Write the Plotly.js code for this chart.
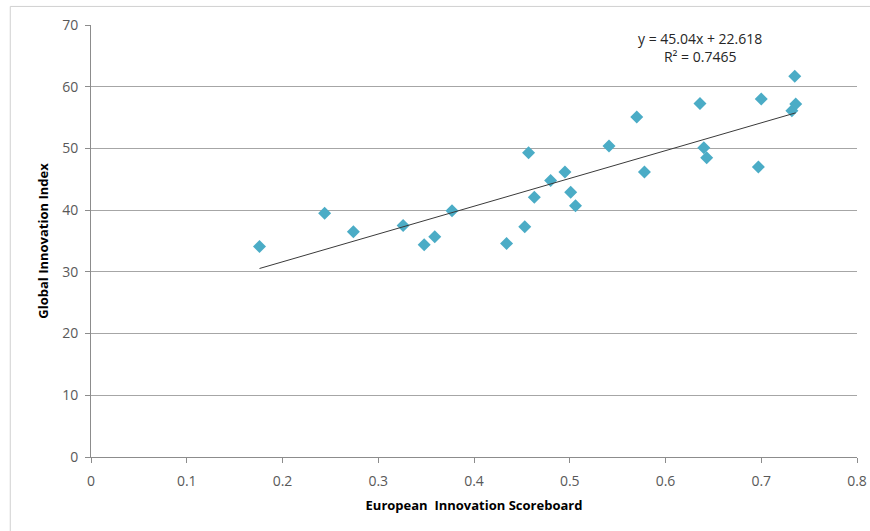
<!DOCTYPE html>
<html>
<head>
<meta charset="utf-8">
<script src="https://cdn.plot.ly/plotly-3.0.1.min.js"></script>
<style>html,body{margin:0;padding:0;background:#fff;}#chart{width:870px;height:531px;}</style>
</head>
<body>
<div id="chart"></div>
<script>
// European Innovation Scoreboard (x) vs Global Innovation Index (y)
const eisScores = [0.176, 0.244, 0.274, 0.326, 0.348, 0.359, 0.377, 0.434, 0.453, 0.457,
  0.463, 0.480, 0.495, 0.501, 0.506, 0.541, 0.570, 0.578, 0.636, 0.640,
  0.643, 0.697, 0.700, 0.732, 0.736, 0.735];
const giiScores = [34.1, 39.5, 36.5, 37.5, 34.4, 35.7, 39.9, 34.6, 37.3, 49.3,
  42.1, 44.8, 46.2, 42.9, 40.7, 50.4, 55.1, 46.2, 57.3, 50.1,
  48.5, 47.0, 58.0, 56.1, 57.2, 61.7];
// Linear trendline as printed on the chart
const trendSlope = 45.04;
const trendIntercept = 22.618;
const trendR2 = 0.7465;
const xTicks = [0, 0.1, 0.2, 0.3, 0.4, 0.5, 0.6, 0.7, 0.8];
const yTicks = [0, 10, 20, 30, 40, 50, 60, 70];

const xMin = Math.min(...eisScores), xMax = Math.max(...eisScores);
const trendX = [xMin, xMax];
const trendY = trendX.map(v => trendSlope * v + trendIntercept);

const font = "'Open Sans', 'Liberation Sans', sans-serif";

const data = [
  {
    x: eisScores, y: giiScores, type: 'scatter', mode: 'markers',
    marker: {symbol: 'diamond', size: 10, color: '#4bacc6'},
    hoverinfo: 'x+y', showlegend: false
  },
  {
    x: trendX, y: trendY, type: 'scatter', mode: 'lines',
    line: {color: '#3a3a3a', width: 1},
    hoverinfo: 'skip', showlegend: false
  }
];

const layout = {
  width: 870, height: 531,
  margin: {l: 91, r: 13, t: 25, b: 74},
  paper_bgcolor: '#ffffff', plot_bgcolor: '#ffffff',
  font: {family: font, size: 14, color: '#595959'},
  xaxis: {
    range: [0, 0.8], tickvals: xTicks, ticktext: xTicks.map(String),
    showgrid: false, zeroline: false,
    showline: true, linecolor: '#8c8c8c', linewidth: 1,
    ticks: 'outside', ticklen: 5, tickcolor: '#8c8c8c',
    ticklabelstandoff: 6,
    tickfont: {family: font, size: 14, color: '#595959'},
    title: {text: 'European  Innovation Scoreboard', font: {family: font, size: 13, color: '#000', weight: 'bold'}, standoff: 12},
    fixedrange: true
  },
  yaxis: {
    range: [0, 70], tickvals: yTicks, ticktext: yTicks.map(String),
    showgrid: true, gridcolor: '#a6a6a6', gridwidth: 1, zeroline: false,
    showline: true, linecolor: '#8c8c8c', linewidth: 1,
    ticks: 'outside', ticklen: 5, tickcolor: '#8c8c8c',
    ticklabelstandoff: 4,
    tickfont: {family: font, size: 14, color: '#595959'},
    title: {text: 'Global Innovation Index', font: {family: font, size: 13, color: '#000', weight: 'bold'}, standoff: 10},
    fixedrange: true
  },
  annotations: [{
    xref: 'paper', yref: 'paper', x: 0.795, y: 0.948,
    xanchor: 'center', yanchor: 'middle', showarrow: false, align: 'center',
    text: 'y = ' + trendSlope + 'x + ' + trendIntercept + '<br>R² = ' + trendR2,
    font: {family: font, size: 14, color: '#262626'}
  }],
  shapes: [{
    type: 'rect', xref: 'paper', yref: 'paper',
    x0: -0.1054, x1: 1.03, y0: -0.25, y1: 1.043,
    line: {color: '#d0d0d0', width: 1}, layer: 'below'
  }]
};

Plotly.newPlot('chart', data, layout, {displayModeBar: false, staticPlot: true});
</script>
</body>
</html>
